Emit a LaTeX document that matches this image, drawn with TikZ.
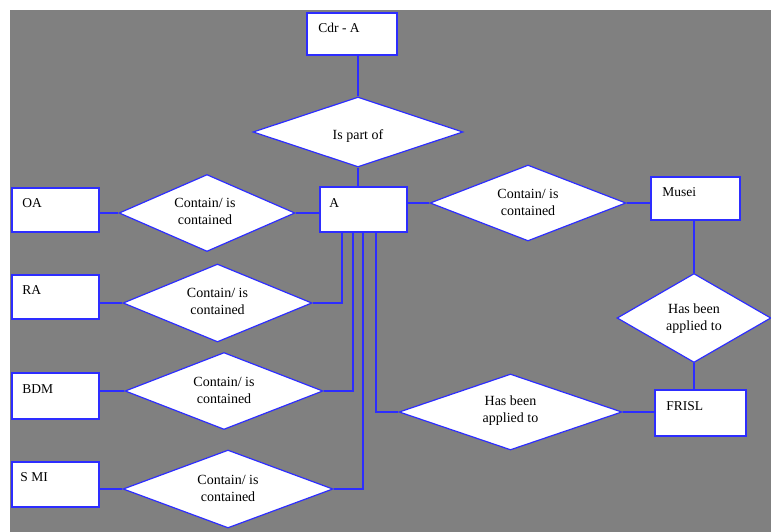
\documentclass[tikz,border=0pt]{standalone}
\usepackage{fontspec}
\setmainfont{Liberation Serif}
\usetikzlibrary{shapes.geometric}
\definecolor{bg}{RGB}{128,128,128}
\definecolor{edge}{RGB}{45,45,255}
\tikzset{
  entity/.style={draw=edge, fill=white, line width=1.5pt, rectangle, inner sep=0pt},
  relation/.style={draw=edge, fill=white, line width=1.2pt, diamond, inner sep=0pt},
  etext/.style={anchor=west, inner sep=0pt, font=\fontsize{13.5}{17}\selectfont},
  rtext/.style={align=center, inner sep=0pt, font=\fontsize{14}{17}\selectfont},
  link/.style={draw=edge, line width=1.3pt},
}
\begin{document}
\begin{tikzpicture}[x=1pt, y=-1pt]
  \useasboundingbox (0,0) rectangle (771,532);
  \fill[white] (0,0) rectangle (771,532);
  \fill[bg] (10,10) rectangle (771,532);

  % entities
  \node[entity, minimum width=90pt, minimum height=42pt] (cdr) at (352,34) {};
  \node[entity, minimum width=87pt, minimum height=45pt] (a)   at (363.5,209.5) {};
  \node[entity, minimum width=87pt, minimum height=44pt] (oa)  at (55.5,210) {};
  \node[entity, minimum width=87pt, minimum height=44pt] (ra)  at (55.5,297) {};
  \node[entity, minimum width=87pt, minimum height=46pt] (bdm) at (55.5,396) {};
  \node[entity, minimum width=87pt, minimum height=45pt] (smi) at (55.5,484.5) {};
  \node[entity, minimum width=89pt, minimum height=43pt] (mu)  at (695.5,198.5) {};
  \node[entity, minimum width=91pt, minimum height=46pt] (fr)  at (700.5,413) {};

  % entity names
  \node[etext] at ([xshift=12pt,yshift=-16pt]cdr.north west) {Cdr - A};
  \node[etext] at ([xshift=10pt,yshift=-17pt]a.north west) {A};
  \node[etext] at ([xshift=11pt,yshift=-16pt]oa.north west) {OA};
  \node[etext] at ([xshift=11pt,yshift=-16pt]ra.north west) {RA};
  \node[etext] at ([xshift=11pt,yshift=-17pt]bdm.north west) {BDM};
  \node[etext] at ([xshift=9pt,yshift=-16pt]smi.north west) {S MI};
  \node[etext] at ([xshift=12pt,yshift=-16pt]mu.north west) {Musei};
  \node[etext] at ([xshift=12pt,yshift=-17pt]fr.north west) {FRISL};

  % relationships
  \node[relation, minimum width=210pt, minimum height=70pt] (ip) at (358,132) {};
  \node[relation, minimum width=176pt, minimum height=77pt] (d1) at (207,213) {};
  \node[relation, minimum width=189pt, minimum height=78pt] (d2) at (217.5,303) {};
  \node[relation, minimum width=198pt, minimum height=77pt] (d3) at (224,391) {};
  \node[relation, minimum width=210pt, minimum height=78pt] (d4) at (228,489) {};
  \node[relation, minimum width=196pt, minimum height=76pt] (d5) at (528,203) {};
  \node[relation, minimum width=154pt, minimum height=89pt] (h1) at (694,318) {};
  \node[relation, minimum width=223pt, minimum height=76pt] (h2) at (510.5,412) {};

  \node[rtext] at ([yshift=-4pt]ip.center) {Is part of};
  \node[rtext] at ([xshift=-2pt,yshift=2pt]d1.center) {Contain/ is\\contained};
  \node[rtext] at ([yshift=2pt]d2.center) {Contain/ is\\contained};
  \node[rtext] at ([yshift=1pt]d3.center) {Contain/ is\\contained};
  \node[rtext] at ([yshift=1pt]d4.center) {Contain/ is\\contained};
  \node[rtext] at ([yshift=1pt]d5.center) {Contain/ is\\contained};
  \node[rtext] at ([yshift=-1pt]h1.center) {Has been\\applied to};
  \node[rtext] at ([yshift=1pt]h2.center) {Has been\\applied to};

  % connectors
  \draw[link] (ip.north) -- (ip.north |- cdr.south);
  \draw[link] (ip.south) -- (ip.south |- a.north);
  \draw[link] (d1.west) -- (d1.west -| oa.east);
  \draw[link] (d1.east) -- (d1.east -| a.west);
  \draw[link] (d2.west) -- (d2.west -| ra.east);
  \draw[link] (d2.east) -| ([xshift=-21.5pt]a.south);
  \draw[link] (d3.west) -- (d3.west -| bdm.east);
  \draw[link] (d3.east) -| ([xshift=-10.5pt]a.south);
  \draw[link] (d4.west) -- (d4.west -| smi.east);
  \draw[link] (d4.east) -| ([xshift=-0.5pt]a.south);
  \draw[link] ([xshift=12.5pt]a.south) |- (h2.west);
  \draw[link] (h2.east) -- (h2.east -| fr.west);
  \draw[link] (d5.west) -- (d5.west -| a.east);
  \draw[link] (d5.east) -- (d5.east -| mu.west);
  \draw[link] (h1.north) -- (h1.north |- mu.south);
  \draw[link] (h1.south) -- (h1.south |- fr.north);
\end{tikzpicture}
\end{document}
